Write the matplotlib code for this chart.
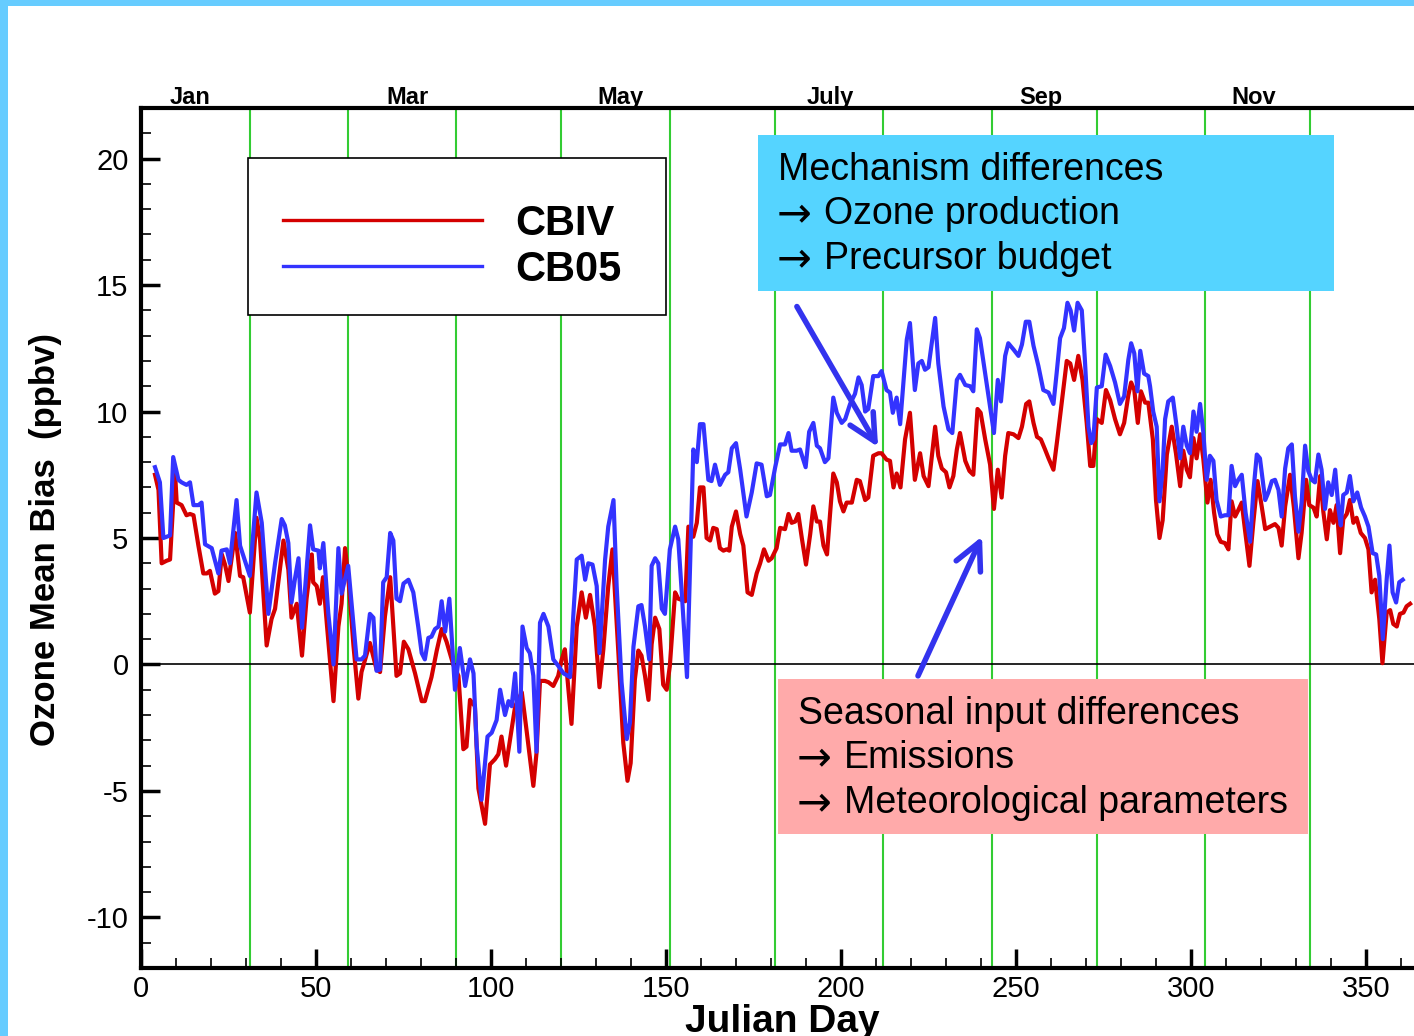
import matplotlib
matplotlib.use("Agg")
import matplotlib.pyplot as plt
from matplotlib.lines import Line2D
from matplotlib.patches import Rectangle
from matplotlib.ticker import MultipleLocator

plt.rcParams['font.family'] = ['Liberation Sans', 'DejaVu Sans']
plt.rcParams['axes.unicode_minus'] = False

# ---- data (Julian day, ozone mean bias in ppbv) ----
cbiv_day = [4, 5, 5.9, 7.3, 8.3, 9.7, 10.2, 11.6, 13, 14, 15, 16.4, 17.8, 18.8, 19.7, 21.1, 22.1, 23.1, 24, 25,
            26.9, 28.3, 29.2, 31.1, 33, 34, 35.9, 37.3, 38.3, 40.7, 42.1, 43, 44.5, 46, 47.3, 48.8, 49.2, 50.2,
            51.1, 52, 53.1, 55, 56.4, 57.3, 58.3, 59.2, 60.7, 62.1, 63, 65.4, 67.3, 68.3, 69.7, 71.2, 73, 74,
            75.1, 76.4, 78.3, 80.2, 81.1, 83, 84.5, 85.9, 87.3, 89.2, 90.7, 92.1, 93, 94, 95.4, 96.4, 98.3,
            99.7, 101.1, 102.1, 103, 104.3, 105.9, 106.9, 108.8, 110.2, 112.1, 113, 114, 115.4, 116.4, 117.8,
            119.2, 120.2, 121.1, 123, 124.5, 125.9, 127.1, 128.3, 129.7, 131, 132.1, 133.5, 134.7, 136.4,
            137.8, 139, 139.9, 141.1, 142.1, 143, 144, 145, 145.9, 146.9, 148.1, 149.2, 150.2, 151.1, 152.6,
            153.5, 155.5, 156.4, 157.8, 158.8, 159.7, 160.7, 161.6, 162.6, 163.5, 164.5, 165.4, 166.4, 167.3,
            168.1, 168.8, 170, 171.2, 172.1, 173.3, 174.5, 175.9, 176.9, 178, 179.3, 180.2, 181.6, 182.6, 184,
            185, 185.9, 186.9, 187.8, 188.8, 190, 191.2, 192.1, 193.1, 194, 195, 196, 196.9, 197.8, 198.8,
            199.7, 200.7, 201.6, 203.1, 204.5, 205.4, 206.9, 207.8, 209.2, 210.7, 211.6, 213, 214, 215, 215.9,
            217, 218.3, 219.7, 221.1, 222.6, 223.6, 225, 226.9, 227.8, 228.8, 230, 231, 232.1, 233.1, 234,
            235.5, 236.7, 237.8, 239, 239.9, 241.2, 242.6, 243.7, 244.8, 245.9, 246.9, 247.8, 249.3, 250.7,
            251.7, 252.9, 253.8, 255, 256, 257.1, 258.3, 259.3, 260.7, 261.8, 263.1, 264.5, 265.5, 266.6,
            267.8, 269, 270.2, 271.2, 272.1, 273.1, 274.5, 275.7, 276.9, 278.3, 279.7, 280.9, 282.1, 282.9,
            283.8, 284.8, 285.7, 286.9, 287.8, 289.1, 290, 291, 291.9, 293.1, 294.5, 295.7, 296.9, 297.8,
            298.8, 299.7, 300.7, 301.6, 302.6, 303.5, 304.7, 305.6, 306.6, 307.5, 308.5, 309.7, 310.7, 311.6,
            312.6, 313.5, 314.5, 315.4, 316.7, 317.8, 319, 320.2, 321.2, 322.6, 324, 325, 325.9, 326.9, 328.3,
            329.4, 330.7, 331.6, 332.9, 333.8, 335, 335.9, 336.9, 337.8, 338.8, 339.7, 340.7, 341.6, 342.6,
            343.5, 344.5, 345.4, 346.4, 347.3, 348.5, 349.7, 350.7, 351.6, 352.6, 353.8, 354.7, 355.9, 356.9,
            357.8, 358.8, 359.7, 360.7, 361.6, 362.6]
cbiv_bias = [7.5, 6.9, 4.0, 4.1, 4.15, 7.65, 6.4, 6.3, 5.9, 5.95, 5.9, 4.7, 3.6, 3.6, 3.7, 2.8, 2.9, 4.35, 3.95, 3.3,
             5.2, 3.5, 3.45, 2.05, 5.8, 4.95, 0.75, 1.8, 2.2, 4.9, 3.75, 1.85, 2.4, 0.35, 2.6, 4.35, 3.25, 3.1,
             2.4, 3.45, 1.6, -1.45, 1.5, 2.4, 4.6, 3.5, 0.75, -1.35, -0.3, 0.85, -0.2, -0.3, 1.9, 3.45, -0.45, -0.35,
             0.9, 0.6, -0.35, -1.45, -1.45, -0.5, 0.55, 1.4, 0.9, 0.0, -0.45, -3.35, -3.25, -1.4, -1.65, -4.9, -6.3,
             -3.95, -3.75, -3.55, -2.85, -4.0, -2.55, -1.65, -1.1, -2.65, -4.8, -3.5, -0.65, -0.65, -0.7, -0.85,
             -0.45, 0.2, 0.6, -2.35, 1.5, 2.85, 1.85, 2.75, 1.5, -0.9, 0.6, 3.1, 4.55, 0.45,
             -3.1, -4.6, -3.9, -0.6, 0.55, 0.35, -0.45, -1.4, 0.8, 1.85, 1.4, -0.8, -1.0, -0.05, 2.85,
             2.6, 2.5, 5.45, 5.05, 5.6, 7.0, 7.0, 5.0, 4.9, 5.4, 5.35, 4.6, 4.5, 4.55,
             4.5, 5.45, 6.05, 5.15, 4.7, 2.85, 2.75, 3.6, 4.0, 4.55, 4.1, 4.2, 4.6, 5.4, 5.35,
             5.95, 5.6, 5.65, 5.95, 5.0, 3.95, 5.15, 6.25, 5.65, 5.65, 4.7, 4.35, 6.0, 7.55, 7.2,
             6.45, 6.05, 6.4, 6.4, 7.3, 7.25, 6.5, 6.6, 8.25, 8.35, 8.35, 8.1, 8.05, 7.0, 7.55,
             7.0, 8.9, 9.95, 7.3, 8.35, 7.45, 7.05, 9.4, 8.25, 7.75, 7.6, 7.0, 7.45, 8.5, 9.15,
             8.05, 7.65, 7.5, 10.1, 9.95, 8.9, 7.9, 6.15, 7.7, 6.6, 8.25, 9.15, 9.1, 8.95,
             9.4, 10.3, 10.4, 9.55, 9.0, 8.9, 8.5, 8.15, 7.7, 8.9, 10.4, 12.0, 11.9, 11.25,
             12.2, 11.25, 9.55, 7.85, 7.85, 9.7, 9.55, 10.85, 10.45, 9.7, 9.1, 9.55, 10.65, 11.15,
             10.85, 9.55, 10.8, 10.35, 10.35, 8.9, 6.5, 5.0, 5.7, 8.3, 9.4, 8.35, 7.05, 8.45,
             7.7, 7.4, 8.95, 8.15, 9.1, 8.15, 6.4, 7.3, 6.0, 5.15, 4.85, 4.8, 4.55, 6.45,
             5.85, 6.1, 6.4, 5.35, 3.9, 5.6, 7.25, 6.25, 5.35, 5.45, 5.55, 5.4, 4.7, 6.25, 7.5,
             6.2, 4.2, 5.2, 7.3, 6.3, 6.2, 5.85, 7.45, 6.05, 4.95, 6.1, 5.6, 6.3, 4.4,
             5.75, 5.95, 6.5, 5.6, 5.8, 5.2, 5.0, 4.55, 2.85, 3.35, 1.8, 0.05, 2.05, 2.15,
             1.6, 1.5, 2.0, 2.05, 2.3, 2.4]

cb05_day = [4, 5.4, 6.4, 8.3, 9.2, 10.7, 11.6, 13, 14, 15, 16.4, 17.3, 18.3, 20.2, 22.1, 23, 24.5, 25.4, 27.3, 28.3,
            31.1, 33, 34.5, 36.4, 38.3, 40.2, 41.1, 42.1, 43, 44, 45, 46, 48.3, 49.2, 50.7, 51.1, 52.1, 53.5, 55,
            56.4, 57.3, 59.2, 61.6, 63, 64, 65.4, 66.4, 67.3, 68.3, 69.2, 70.2, 71.2, 72.1, 73, 74, 75, 76.4,
            77.8, 79.2, 80.2, 81.1, 82.1, 83, 84, 85, 85.9, 86.9, 88.1, 88.8, 89.7, 91.1, 92.6, 94, 95, 95.9,
            97.3, 99, 100.2, 101.6, 102.6, 104, 105, 105.9, 106.9, 108.1, 109, 110.2, 111.1, 112.1, 113, 114,
            115, 116.4, 117.8, 119.2, 120.7, 122.6, 123.5, 124.5, 125.9, 126.9, 127.8, 129, 130.2, 131, 132.6,
            133.5, 135, 135.9, 137.3, 138.8, 139.7, 140.7, 142.1, 143, 144, 145.2, 145.9, 146.9, 147.8, 148.8,
            149.7, 151.1, 152.6, 153.5, 154.5, 156, 157.8, 158.8, 159.7, 160.7, 162.1, 163, 164, 165.4, 166.9,
            167.8, 168.8, 170, 171.2, 173, 174.5, 175.9, 177.3, 178.8, 179.7, 181.2, 182.6, 184, 185, 185.9,
            187.3, 188.3, 189.9, 190.9, 192.1, 193.1, 194, 195.4, 196.4, 197.8, 198.8, 200.2, 201.2, 202.6,
            204, 205, 205.9, 206.9, 207.8, 209.2, 210.7, 211.6, 213, 214, 214.8, 215.9, 216.9, 218.8, 219.7,
            221.1, 222.1, 223.1, 224, 225, 226.9, 227.8, 229.3, 230.7, 231.8, 233.1, 234, 235.5, 236.9, 237.8,
            238.8, 239.7, 241.2, 242.6, 243.7, 244.8, 245.7, 246.9, 247.8, 249.3, 250.7, 251.7, 252.8, 253.8,
            255, 256.4, 257.8, 259.3, 260.7, 261.6, 262.6, 263.7, 264.7, 265.6, 266.6, 267.6, 268.8, 269.7,
            270.7, 271.5, 272.1, 273.1, 274.5, 275.6, 276.9, 278.3, 279.7, 280.9, 282.1, 282.9, 283.8, 284.7,
            285.5, 286.6, 287.8, 288.3, 289.2, 290.2, 291, 291.9, 292.6, 293.5, 294.8, 295.9, 296.9, 297.8,
            298.8, 299.7, 300.7, 301.6, 302.6, 303.5, 304.5, 305.4, 306.4, 307.3, 308.5, 309.7, 310.7, 311.6,
            312.6, 313.5, 314.5, 315.6, 316.9, 317.8, 318.8, 319.7, 321.2, 322.1, 323.1, 324, 325, 325.9,
            326.9, 327.8, 328.8, 329.7, 330.7, 331.6, 332.6, 333.5, 334.5, 335.4, 336.4, 337.3, 338.3, 339.2,
            340.2, 341.2, 342.1, 342.8, 343.5, 344.5, 345.4, 346.4, 347.5, 348.6, 349.7, 350.7, 351.9, 352.9,
            353.8, 354.8, 355.9, 356.7, 357.6, 358.6, 359.5, 360.5]
cb05_bias = [7.8, 7.2, 5.0, 5.1, 8.2, 7.3, 7.2, 7.1, 7.2, 6.3, 6.3, 6.4, 4.75, 4.6, 3.6, 4.5, 4.55, 4.0, 6.5, 4.7,
             3.5, 6.8, 5.6, 2.0, 4.0, 5.75, 5.5, 4.8, 2.45, 3.4, 4.2, 1.45, 5.5, 4.55, 4.5, 3.8, 4.8, 2.05, 0.0,
             4.6, 2.8, 3.9, 0.2, 0.2, 0.35, 2.0, 1.85, -0.25, -0.2, 3.25, 3.45, 5.2, 4.9, 2.6, 2.5, 3.2, 3.35,
             2.85, 1.5, 0.45, 0.2, 1.05, 1.1, 1.4, 1.5, 2.5, 1.3, 2.6, 1.0, -1.0, 0.65, -0.85, 0.2, -0.35, -3.2,
             -5.35, -2.85, -2.7, -2.2, -1.0, -2.0, -1.45, -1.65, -0.35, -3.45, 1.5, 0.65, 0.45, -0.45, -3.45, 1.65,
             2.0, 1.5, 0.2, -0.05, -0.35, -0.5, 1.9, 4.15, 4.3, 3.35, 4.0, 3.95, 3.1, 0.45, 4.15,
             5.45, 6.5, 3.1, -0.7, -2.95, -2.3, 0.7, 2.3, 2.35, 1.5, 0.2, 3.9, 4.2, 4.0, 2.2,
             2.0, 4.55, 5.45, 4.95, 2.85, -0.5, 8.5, 8.0, 9.5, 9.5, 7.3, 7.25, 7.9, 7.1, 7.5,
             7.6, 8.55, 8.75, 7.7, 5.85, 6.8, 7.95, 7.9, 6.65, 6.7, 7.8, 8.7, 8.7, 9.15, 8.45,
             8.45, 8.5, 7.8, 9.2, 9.55, 8.65, 8.55, 8.0, 8.15, 10.55, 9.95, 9.55, 9.7, 10.3,
             10.7, 11.35, 11.05, 10.0, 10.1, 11.4, 11.4, 11.6, 10.85, 10.75, 9.95, 10.55, 9.5, 12.85, 13.5,
             10.85, 11.9, 12.0, 11.65, 11.75, 13.7, 11.9, 10.2, 9.3, 9.15, 11.25, 11.45, 11.05, 11.0, 10.8,
             13.25, 12.9, 11.5, 10.2, 9.15, 11.25, 10.4, 12.2, 12.7, 12.45, 12.2, 12.65, 13.55, 13.55,
             12.6, 11.8, 10.85, 10.75, 10.3, 11.5, 12.9, 13.3, 14.3, 14.0, 13.2, 14.3, 14.0, 12.0,
             9.4, 8.75, 8.9, 10.95, 11.0, 12.25, 11.8, 11.15, 10.3, 10.6, 12.05, 12.7, 12.3, 10.8,
             12.4, 11.5, 11.4, 11.0, 10.0, 9.4, 6.45, 7.7, 9.7, 10.4, 10.55, 9.4, 8.15, 9.4,
             8.65, 8.35, 10.0, 9.2, 10.3, 9.2, 7.3, 8.25, 8.05, 6.5, 5.85, 5.9, 5.9, 7.85,
             7.05, 7.3, 7.5, 6.0, 4.85, 6.8, 8.3, 8.15, 6.5, 6.8, 7.25, 7.3, 6.9, 5.85,
             7.75, 8.55, 8.7, 6.65, 5.25, 6.4, 8.65, 7.65, 7.3, 7.2, 8.3, 7.7, 6.15, 7.2,
             6.7, 7.7, 6.2, 5.5, 6.7, 6.8, 7.45, 6.45, 6.8, 6.2, 5.85, 5.45, 4.4, 4.35,
             3.5, 1.0, 3.35, 4.7, 2.85, 2.45, 3.25, 3.35]

month_start_days = [31, 59, 90, 120, 151, 181, 212, 243, 273, 304, 334]
month_label_days = [14, 76, 137, 197, 257, 318]
month_labels = ['Jan', 'Mar', 'May', 'July', 'Sep', 'Nov']

mechanism_lines = ['Mechanism differences', 'Ozone production', 'Precursor budget']
seasonal_lines = ['Seasonal input differences', 'Emissions', 'Meteorological parameters']

W, H = 1414, 1036
fig = plt.figure(figsize=(W / 100, H / 100), dpi=100, facecolor='#66CCFF')
# white slide area, light-blue frame on top and left
fig.patches.append(Rectangle((8 / W, 0), 1 - 8 / W, 1 - 6 / H, transform=fig.transFigure,
                             facecolor='white', edgecolor='none', zorder=-5))

ax = fig.add_axes([141 / W, 1 - 968 / H, 1277.5 / W, 860 / H])
ax.set_facecolor('none')
ax.set_xlim(0, 365)
ax.set_ylim(-12, 22)

for d in month_start_days:
    ax.axvline(d, color='#33CC33', lw=1.5, zorder=1)
ax.axhline(0, color='black', lw=1.2, zorder=1)

ax.plot(cbiv_day, cbiv_bias, color='#D40000', lw=3, zorder=3, solid_joinstyle='round')
ax.plot(cb05_day, cb05_bias, color='#3333FF', lw=3, zorder=4, solid_joinstyle='round')

# axes styling
for side in ['left', 'bottom', 'top']:
    ax.spines[side].set_linewidth(3)
ax.spines['right'].set_visible(False)
ax.xaxis.set_major_locator(MultipleLocator(50))
ax.xaxis.set_minor_locator(MultipleLocator(10))
ax.yaxis.set_major_locator(MultipleLocator(5))
ax.yaxis.set_minor_locator(MultipleLocator(1))
ax.tick_params(which='major', direction='in', length=14, width=2.5, labelsize=21)
ax.tick_params(which='minor', direction='in', length=7, width=1.2)
ax.tick_params(axis='y', which='both', pad=9)
ax.tick_params(axis='x', which='both', pad=5, top=False)

ax.set_xlabel('Julian Day', fontsize=28, fontweight='bold', va='top')
ax.xaxis.set_label_coords(0.5018, -0.042)
ax.set_ylabel('Ozone Mean Bias  (ppbv)', fontsize=25, fontweight='bold')
ax.yaxis.set_label_coords(-0.062, 0.4977)

top = ax.secondary_xaxis('top')
top.set_xticks(month_label_days)
top.set_xticklabels(month_labels, fontsize=17, fontweight='bold')
top.tick_params(length=0, pad=-1)
top.spines['top'].set_visible(False)

# legend: white box with black border, entries placed inside it
fig.patches.append(Rectangle((248 / W, 1 - 315 / H), 418 / W, 157 / H, transform=fig.transFigure,
                             facecolor='white', edgecolor='black', lw=1.2, zorder=5))
handles = [Line2D([], [], color='#D40000', lw=2.4), Line2D([], [], color='#3333FF', lw=2.4)]
leg = fig.legend(handles, ['CBIV', 'CB05'], loc='upper left',
                 bbox_to_anchor=(283 / W, 1 - 204 / H), bbox_transform=fig.transFigure,
                 borderaxespad=0, borderpad=0, frameon=False,
                 prop={'size': 30, 'weight': 'bold'}, handlelength=4.77, handletextpad=0.8,
                 labelspacing=0.14)
leg.set_zorder(6)


def note_box(x0, y0, w, h, color, lines):
    # coloured note in pixel coordinates (top-left corner x0, y0)
    fig.patches.append(Rectangle((x0 / W, 1 - (y0 + h) / H), w / W, h / H, transform=fig.transFigure,
                                 facecolor=color, edgecolor='none', zorder=5))
    for i, line in enumerate(lines):
        yc = 1 - (y0 + 35 + 44.5 * i) / H
        if i == 0:
            fig.text((x0 + 20) / W, yc, line, fontsize=27, ha='left', va='center', zorder=6)
        else:
            fig.text((x0 + 19) / W, yc, '\u2192', fontsize=30, ha='left', va='center',
                     family='DejaVu Sans', zorder=6)
            fig.text((x0 + 66) / W, yc, line, fontsize=27, ha='left', va='center', zorder=6)


note_box(758, 135, 576, 156, '#55D4FF', mechanism_lines)
note_box(778, 679, 530, 155, '#FFAAAA', seasonal_lines)

# arrows
arrow_kw = dict(arrowstyle='->,head_length=1.2,head_width=0.6', color='#3333EE', lw=4,
                mutation_scale=16, shrinkA=0, shrinkB=0)
ax.annotate('', xy=(210.6, 8.6), xytext=(187.4, 14.15), arrowprops=arrow_kw, zorder=7)
ax.annotate('', xy=(240.3, 5.06), xytext=(222.0, -0.45), arrowprops=arrow_kw, zorder=7)

fig.savefig('out.png', dpi=100, facecolor=fig.get_facecolor())
